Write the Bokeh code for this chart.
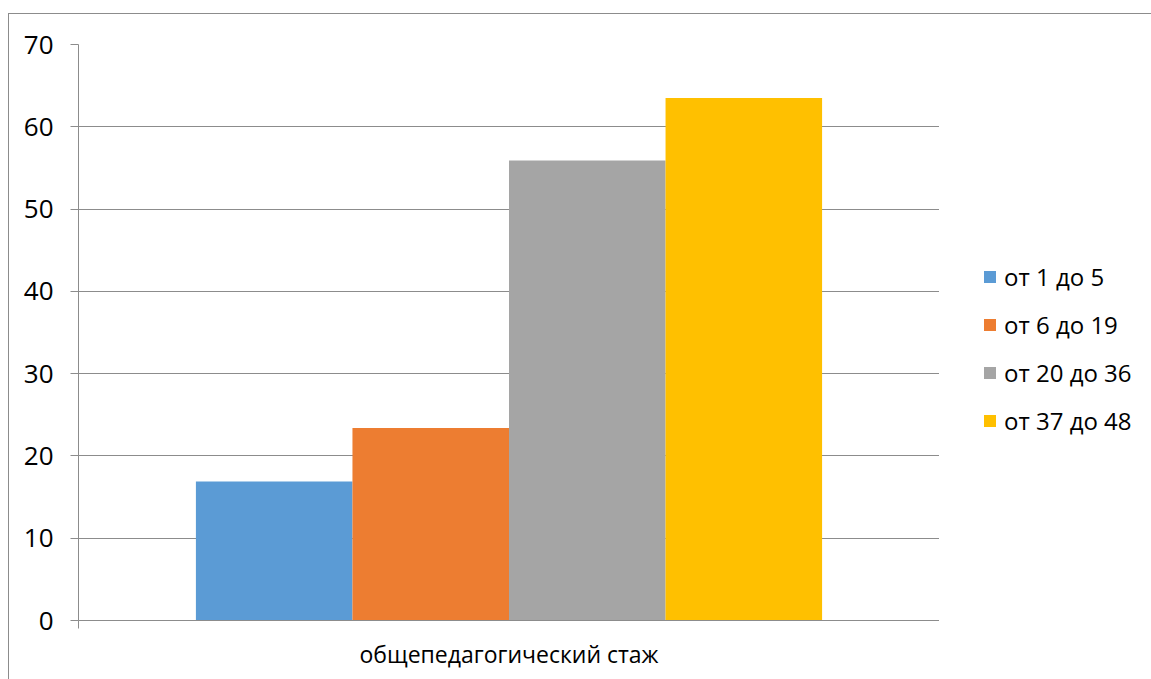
from bokeh.plotting import figure
from bokeh.layouts import row
from bokeh.models import Range1d, FixedTicker, Legend, LegendItem, ColumnDataSource
from bokeh.embed import file_html
from bokeh.resources import INLINE

category = "общепедагогический стаж"
series = ["от 1 до 5", "от 6 до 19", "от 20 до 36", "от 37 до 48"]
values = [16.9, 23.4, 55.9, 63.5]
colors = ["#5B9BD5", "#ED7D31", "#A5A5A5", "#FFC000"]
y_ticks = [0, 10, 20, 30, 40, 50, 60, 70]

FONT = "Open Sans"
GRID = "#8c8c8c"

n = len(series)
gap_width = 1.5  # Excel gap width 150%
bar_w = 1.0 / (n + gap_width)
center = 0.5

p = figure(width=930, height=665, output_backend="svg", toolbar_location=None,
           x_range=Range1d(0, 1), y_range=Range1d(0, 70),
           min_border_left=69, min_border_right=0, min_border_top=30, min_border_bottom=59)
p.outline_line_color = None
p.background_fill_color = "white"
p.border_fill_color = "white"

# separate legend panel; its renderers only supply legend swatches
# (zero-height, placed outside the visible range)
pl = figure(width=212, height=665, output_backend="svg", toolbar_location=None,
            x_range=Range1d(0, 1), y_range=Range1d(0, 1),
            x_axis_type=None, y_axis_type=None,
            min_border_left=0, min_border_right=0, min_border_top=30, min_border_bottom=59)
pl.outline_line_color = None
pl.background_fill_color = "white"
pl.border_fill_color = "white"

items = []
for i, (s, v, c) in enumerate(zip(series, values, colors)):
    src = ColumnDataSource(dict(x=[center + (i - (n - 1) / 2) * bar_w], top=[v]))
    p.vbar(x="x", top="top", bottom=0, width=bar_w, source=src,
           fill_color=c, line_color=None)
    r2 = pl.vbar(x=[-100], top=[0], bottom=0, width=bar_w, fill_color=c, line_color=None)
    items.append(LegendItem(label=s, renderers=[r2]))

# y axis
yax = p.yaxis[0]
yax.ticker = FixedTicker(ticks=y_ticks, minor_ticks=[])
yax.axis_line_color = GRID
yax.major_tick_line_color = GRID
yax.major_tick_out = 8
yax.major_tick_in = 0
yax.minor_tick_line_color = None
yax.major_label_standoff = 17
yax.major_label_text_font = FONT
yax.major_label_text_font_size = "26px"
yax.major_label_text_color = "black"

# x axis
xax = p.xaxis[0]
xax.ticker = FixedTicker(ticks=[center], minor_ticks=[0, 1])
xax.major_label_overrides = {center: category}
xax.axis_line_color = GRID
xax.major_tick_line_color = None
xax.major_tick_out = 0
xax.major_tick_in = 0
xax.minor_tick_line_color = GRID
xax.minor_tick_out = 8
xax.minor_tick_in = 0
xax.major_label_standoff = 9
xax.major_label_text_font = FONT
xax.major_label_text_font_size = "23px"
xax.major_label_text_color = "black"

p.xgrid.grid_line_color = None
p.ygrid.ticker = FixedTicker(ticks=y_ticks)
p.ygrid.grid_line_color = GRID

legend = Legend(items=items, location=(43, 183), orientation="vertical",
                glyph_width=15, glyph_height=15, label_height=30, spacing=15,
                label_standoff=7, padding=0, margin=0,
                border_line_alpha=0, background_fill_alpha=0,
                label_text_font=FONT, label_text_font_size="24px",
                label_text_color="black")
pl.add_layout(legend, "center")

layout = row(p, pl, spacing=0, margin=(14, 0, 0, 9))
layout.styles = {"outline": "1px solid #8c8c8c"}

open("out.html", "w").write(file_html(layout, INLINE))
